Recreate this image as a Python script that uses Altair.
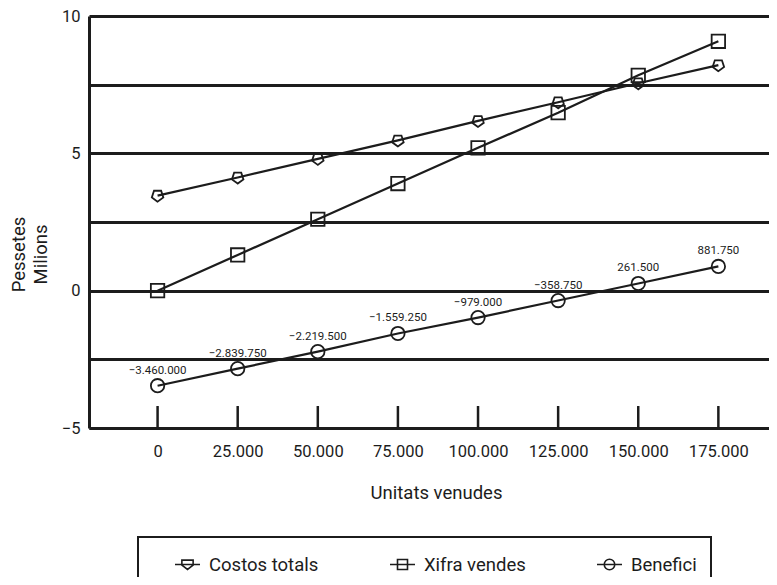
import altair as alt
import pandas as pd

# ---- data ----
units = [0, 25000, 50000, 75000, 100000, 125000, 150000, 175000]
costos_totals = [3.46, 4.12, 4.80, 5.47, 6.18, 6.86, 7.55, 8.21]   # milions de pessetes
xifra_vendes = [0.00, 1.30, 2.60, 3.90, 5.20, 6.48, 7.84, 9.08]     # milions de pessetes
benefici = [-3460000, -2839750, -2219500, -1559250, -979000, -358750, 261500, 881750]  # pessetes
series_names = ["Costos totals", "Xifra vendes", "Benefici"]
y_values = [-5, -2.5, 0, 2.5, 5, 7.5, 10]

FONT = "Roboto, Liberation Sans, sans-serif"
INK = "#1c1c1c"

rows = []
for i, u in enumerate(units):
    rows.append({"units": u, "series": "Costos totals", "value": costos_totals[i], "ben": None})
    rows.append({"units": u, "series": "Xifra vendes", "value": xifra_vendes[i], "ben": None})
    rows.append({"units": u, "series": "Benefici", "value": benefici[i] / 1e6, "ben": benefici[i]})
df = pd.DataFrame(rows)
df_ben = df[df["series"] == "Benefici"].copy()
df_ticks = pd.DataFrame({"tick": units})

x_axis = alt.Axis(values=units, format=",d", title="Unitats venudes", ticks=False, grid=False,
                  domainWidth=3, domainColor=INK, labelFontSize=16.5, labelPadding=15,
                  labelColor=INK, labelFont=FONT, labelFlush=False,
                  titleFont=FONT, titleFontSize=18.5, titleFontWeight="normal", titleColor=INK,
                  titleX=347, titleY=64, titleBaseline="middle", titleAlign="center")
y_axis = alt.Axis(values=y_values, labelExpr="datum.value % 5 == 0 ? datum.label : ''",
                  grid=True, gridColor=INK, gridWidth=3, ticks=False,
                  domainWidth=3, domainColor=INK, labelFontSize=16.5, labelPadding=9,
                  labelColor=INK, labelFont=FONT,
                  title=["Pessetes", "Milions"], titleFont=FONT, titleFontSize=18.5,
                  titleFontWeight="normal", titleColor=INK, titleAngle=270,
                  titleX=-71, titleY=238, titleAlign="center", titleBaseline="middle",
                  titleLineHeight=22)

x_scale = alt.Scale(domain=[-21400, 190800], nice=False, zero=False)
y_scale = alt.Scale(domain=[-5, 10], nice=False, zero=False)

X = alt.X("units:Q", scale=x_scale, axis=x_axis)
Y = alt.Y("value:Q", scale=y_scale, axis=y_axis)

pent = "M0,0.9L-0.856,0.278L-0.529,-0.728L0.529,-0.728L0.856,0.278Z"
pent_l = "M-1,0H1M-0.45,-0.35H0.45V0.05L0,0.4L-0.45,0.05Z"
sq_l = "M-1,0H1M-0.4,-0.4H0.4V0.4H-0.4Z"
circ_l = "M-1,0H1M-0.42,0A0.42,0.42,0,1,1,0.42,0A0.42,0.42,0,1,1,-0.42,0Z"

base = alt.Chart(df)

lines = base.mark_line(color=INK, strokeWidth=2.2).encode(x=X, y=Y, detail="series:N")

points = base.mark_point(filled=False, color=INK, strokeWidth=1.8, size=180, opacity=1).encode(
    x=X, y=Y,
    shape=alt.Shape("series:N", scale=alt.Scale(domain=series_names, range=[pent, "square", "circle"]),
                    legend=None),
)

legend_layer = base.mark_point(opacity=0, color=INK).encode(
    x=X, y=Y,
    shape=alt.Shape("series:N", scale=alt.Scale(domain=series_names, range=[pent_l, sq_l, circ_l]),
                    legend=alt.Legend(orient="none", legendX=49, legendY=521, direction="horizontal",
                                      title=None, strokeColor=INK, padding=14,
                                      labelFont=FONT, labelFontSize=18.5, labelColor=INK,
                                      symbolSize=625, symbolStrokeWidth=1.6, symbolStrokeColor=INK,
                                      symbolFillColor="transparent", symbolOpacity=1,
                                      columnPadding=48, labelOffset=8, symbolOffset=22)),
)

ticks = alt.Chart(df_ticks).mark_rule(color=INK, strokeWidth=2.5).encode(
    x=alt.X("tick:Q", scale=x_scale, axis=x_axis),
    y=alt.datum(-5, scale=y_scale),
    y2=alt.datum(-4.2),
)

labels = alt.Chart(df_ben).mark_text(font=FONT, fontSize=11.5, color=INK, dy=-15, baseline="middle").encode(
    x=X, y=Y, text=alt.Text("ben:Q", format=",d"),
)

chart = (
    alt.layer(lines, points, legend_layer, ticks, labels)
    .resolve_scale(shape="independent")
    .properties(width=680, height=412,
                padding={"left": 81, "top": 8, "right": 0, "bottom": 149},
                autosize=alt.AutoSizeParams(type="none"),
                background="white")
    .configure(font=FONT,
               locale={"number": {"decimal": ",", "thousands": ".", "grouping": [3],
                                  "currency": ["", " Pta"]}})
    .configure_view(stroke=None)
    .configure_legend(strokeWidth=2)
)

chart.save("out.html", embed_options={"renderer": "svg", "actions": False})
